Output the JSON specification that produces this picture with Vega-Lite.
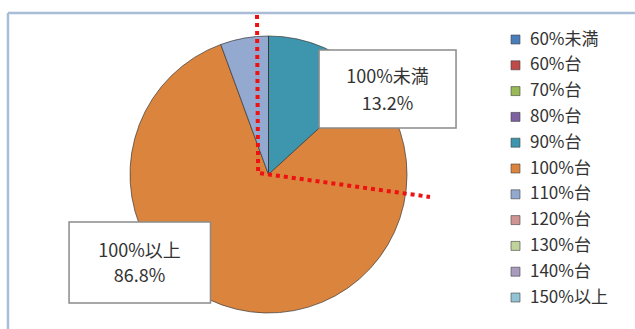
{
  "$schema": "https://vega.github.io/schema/vega-lite/v6.json",
  "width": 537,
  "height": 309,
  "autosize": {"type": "none"},
  "padding": {"left": 0, "top": 20, "right": 98, "bottom": 0},
  "background": "white",
  "config": {"view": {"stroke": null}, "font": "Noto Sans CJK JP"},
  "layer": [
    {
      "data": {"values": [
        {"band": "60%未満", "share": 0, "idx": 1},
        {"band": "60%台", "share": 0, "idx": 2},
        {"band": "70%台", "share": 0, "idx": 3},
        {"band": "80%台", "share": 0, "idx": 4},
        {"band": "90%台", "share": 13.2, "idx": 5},
        {"band": "100%台", "share": 81.2, "idx": 6},
        {"band": "110%台", "share": 5.6, "idx": 7},
        {"band": "120%台", "share": 0, "idx": 8},
        {"band": "130%台", "share": 0, "idx": 9},
        {"band": "140%台", "share": 0, "idx": 10},
        {"band": "150%以上", "share": 0, "idx": 11}
      ]},
      "mark": {"type": "arc", "outerRadius": 138.5, "stroke": "#3a3a3a", "strokeWidth": 0.7},
      "encoding": {
        "theta": {"field": "share", "type": "quantitative", "stack": true},
        "order": {"field": "idx", "type": "quantitative"},
        "color": {
          "field": "band", "type": "nominal",
          "scale": {
            "domain": ["60%未満", "60%台", "70%台", "80%台", "90%台", "100%台", "110%台", "120%台", "130%台", "140%台", "150%以上"],
            "range": ["#4a7ebb", "#be4b48", "#98b954", "#7d60a0", "#3d96ae", "#db843d", "#93a9d0", "#d09493", "#bfd39b", "#a99bbd", "#92c3d4"]
          },
          "legend": {
            "title": null,
            "orient": "none",
            "legendX": 507,
            "legendY": 11,
            "padding": 0,
            "symbolType": "square",
            "symbolSize": 81,
            "symbolStrokeColor": "#404040",
            "symbolStrokeWidth": 0.6,
            "symbolOpacity": 1,
            "labelFontSize": 17,
            "labelColor": "#333333",
            "labelOffset": 6,
            "rowPadding": 7.8,
            "labelFont": "Noto Sans CJK JP"
          }
        }
      }
    },
    {
      "data": {"values": [
        {"x": -1.881, "y": 1.166, "x2": 2.646, "y2": 1.166},
        {"x": -1.881, "y": 1.166, "x2": -1.881, "y2": -1.116}
      ]},
      "mark": {"type": "rule", "color": "#a9bdd8", "strokeWidth": 2.5},
      "encoding": {
        "x": {"field": "x", "type": "quantitative", "scale": {"domain": [-1.9386, 1.9386], "nice": false, "zero": false}, "axis": null},
        "y": {"field": "y", "type": "quantitative", "scale": {"domain": [-1.1155, 1.1155], "nice": false, "zero": false}, "axis": null},
        "x2": {"field": "x2"},
        "y2": {"field": "y2"}
      }
    },
    {
      "data": {"values": [
        {"p": 1, "x": -0.083, "y": 1.152},
        {"p": 2, "x": -0.075, "y": 0.011},
        {"p": 3, "x": 1.166, "y": -0.162}
      ]},
      "mark": {"type": "line", "color": "#ee1111", "strokeWidth": 4, "strokeDash": [4, 4]},
      "encoding": {
        "x": {"field": "x", "type": "quantitative", "axis": null},
        "y": {"field": "y", "type": "quantitative", "axis": null},
        "order": {"field": "p", "type": "quantitative"}
      }
    },
    {
      "data": {"values": [
        {"x": 0.365, "x2": 1.354, "y": 0.899, "y2": 0.336},
        {"x": -1.44, "x2": -0.419, "y": -0.343, "y2": -0.928}
      ]},
      "mark": {"type": "rect", "fill": "white", "stroke": "#8a8a8a", "strokeWidth": 1.5},
      "encoding": {
        "x": {"field": "x", "type": "quantitative", "axis": null},
        "x2": {"field": "x2"},
        "y": {"field": "y", "type": "quantitative", "axis": null},
        "y2": {"field": "y2"}
      }
    },
    {
      "data": {"values": [
        {"label": "100%未満", "x": 0.859, "y": 0.697},
        {"label": "13.2%", "x": 0.859, "y": 0.502},
        {"label": "100%以上", "x": -0.931, "y": -0.56},
        {"label": "86.8%", "x": -0.931, "y": -0.74}
      ]},
      "mark": {"type": "text", "fontSize": 18, "color": "#333333", "align": "center", "baseline": "middle", "font": "Noto Sans CJK JP"},
      "encoding": {
        "x": {"field": "x", "type": "quantitative", "axis": null},
        "y": {"field": "y", "type": "quantitative", "axis": null},
        "text": {"field": "label"}
      }
    }
  ]
}
